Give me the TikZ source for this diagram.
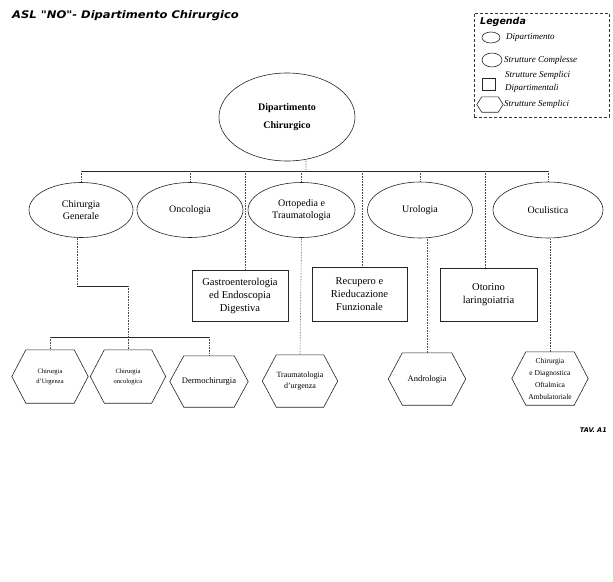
\documentclass[tikz,border=0pt]{standalone}
\usepackage{fontspec}
\setmainfont{Liberation Serif}
\newfontfamily\handfont{DejaVu Sans}
\usetikzlibrary{shapes.geometric,calc}

\tikzset{
  outline/.style={draw=black!85, line width=0.6pt},
  dept/.style={outline, ellipse, inner sep=0pt, align=center,
    font=\fontsize{10}{12}\selectfont},
  sdbox/.style={outline, rectangle, inner sep=0pt, align=center,
    font=\fontsize{10.5}{13}\selectfont},
  hexa/.style={inner sep=0pt, align=center, minimum width=76pt, minimum height=53pt},
  busline/.style={black!85, line width=0.8pt},
  dropline/.style={black!70, line width=0.6pt, densely dotted},
  legtext/.style={anchor=west, inner sep=0pt, font=\fontsize{9}{13}\selectfont\itshape},
}

% hexagon drawn round a named node, with pointed ends of the given depth
\newcommand\hexround[2]{%
  \draw[outline] (#1.west) -- ($(#1.north west)+(#2,0)$) -- ($(#1.north east)+(-#2,0)$)
    -- (#1.east) -- ($(#1.south east)+(-#2,0)$) -- ($(#1.south west)+(#2,0)$) -- cycle;}

\begin{document}
\begin{tikzpicture}[x=1pt, y=-1pt]
\useasboundingbox[fill=white] (0,0) rectangle (613,581);

% heading
\node[anchor=west, inner sep=0pt, font=\handfont\fontsize{10.5}{12}\selectfont\bfseries\itshape]
  (title) at (12,16) {\scalebox{1.1}[1]{ASL "NO"- Dipartimento Chirurgico}};

% legend
\node[draw=black!80, line width=0.6pt, densely dashed, minimum width=135pt, minimum height=104pt,
  inner sep=0pt] (legend) at (541.5,65) {};
\node[anchor=west, inner sep=0pt, font=\handfont\fontsize{9.5}{11}\selectfont\bfseries\itshape]
  (legtitle) at (480,22) {Legenda};
\node[outline, ellipse, minimum width=18pt, minimum height=11pt, inner sep=0pt] (lg1) at (491,37.5) {};
\node[legtext] (lt1) at (506,37.5) {Dipartimento};
\node[outline, ellipse, minimum width=20pt, minimum height=14pt, inner sep=0pt] (lg2) at (492,60) {};
\node[legtext] (lt2) at (504,60) {Strutture Complesse};
\node[outline, rectangle, minimum width=13pt, minimum height=12pt, inner sep=0pt] (lg3) at (489,84) {};
\node[legtext, align=left] (lt3) at (505,82) {Strutture Semplici\\Dipartimentali};
\node[hexa, minimum width=26pt, minimum height=15pt] (lg4) at (490,104.5) {};
\hexround{lg4}{5pt}
\node[legtext] (lt4) at (504,104.5) {Strutture Semplici};

% department
\node[dept, minimum width=136pt, minimum height=88pt, font=\fontsize{10}{18}\selectfont\bfseries]
  (main) at (287,117) {Dipartimento\\Chirurgico};

% complex structures
\node[dept, minimum width=104pt, minimum height=55pt] (cg) at (81,210) {Chirurgia\\Generale};
\node[dept, minimum width=106pt, minimum height=55pt] (onc) at (190,210) {Oncologia};
\node[dept, minimum width=107pt, minimum height=55pt] (ort) at (301.5,210) {Ortopedia e\\Traumatologia};
\node[dept, minimum width=105pt, minimum height=56pt] (uro) at (420,210) {Urologia};
\node[dept, minimum width=110pt, minimum height=56pt] (ocu) at (548,210) {Oculistica};

% departmental simple structures
\node[sdbox, minimum width=96pt, minimum height=51pt] (gas) at (240,296)
  {Gastroenterologia\\ed Endoscopia\\Digestiva};
\node[sdbox, minimum width=95pt, minimum height=54pt] (rec) at (359.5,294)
  {Recupero e\\Rieducazione\\Funzionale};
\node[sdbox, minimum width=97pt, minimum height=53pt] (oto) at (488.5,294.5)
  {Otorino\\laringoiatria};

% simple structures
\node[hexa, font=\fontsize{6.5}{10}\selectfont] (h1) at (50,376.5) {Chirurgia\\d'Urgenza};
\node[hexa, minimum width=75pt, font=\fontsize{6.5}{10}\selectfont] (h2) at (128,376.5) {Chirurgia\\oncologica};
\node[hexa, minimum width=78pt, minimum height=51pt, font=\fontsize{8.5}{10}\selectfont] (h3) at (209,381.5) {Dermochirurgia};
\node[hexa, minimum width=75pt, minimum height=52pt, font=\fontsize{8}{11}\selectfont] (h4) at (300,381) {Traumatologia\\d'urgenza};
\node[hexa, minimum width=77pt, minimum height=52pt, font=\fontsize{8.5}{10}\selectfont] (h5) at (427,379) {Andrologia};
\node[hexa, minimum width=76pt, minimum height=53pt, font=\fontsize{7.5}{12}\selectfont] (h6) at (550,378.5)
  {Chirurgia\\e Diagnostica\\Oftalmica\\Ambulatoriale};
\foreach \h in {h1,h2,h3,h4,h5,h6} {\hexround{\h}{14pt}}

% upper bus
\coordinate (busL) at (81,171);
\coordinate (busR) at (548,171);
\coordinate (mdrop) at (306,171);
\draw[dropline] (main.-66) -- (mdrop);
\draw[busline] (busL) -- (busR);
\foreach \n in {cg,onc,ort,uro,ocu} {\draw[dropline] (\n.north |- busL) -- (\n.north);}

% departmental simple structures hanging from the bus
\coordinate (tgas) at (245,171);
\coordinate (trec) at (362,171);
\coordinate (toto) at (485,171);
\draw[dropline] (tgas) -- (tgas |- gas.north);
\draw[dropline] (trec) -- (trec |- rec.north);
\draw[dropline] (toto) -- (toto |- oto.north);

% simple structures under their complex structures
\draw[dropline] (ort.south) -- (h4.north);
\draw[dropline] (h5.north) -- (h5.north |- uro.south);
\draw[dropline] (h6.north) -- (h6.north |- ocu.south);

% Chirurgia Generale branch
\coordinate (cgk1) at (77,286);
\coordinate (cgk2) at (128,286);
\coordinate (bus2) at (128,337);
\draw[dropline] (cgk1 |- cg.south) -- (cgk1);
\draw[busline] (cgk1) -- (cgk2);
\draw[dropline] (cgk2) -- (bus2);
\draw[busline] (h1.north |- bus2) -- (h3.north |- bus2);
\foreach \h in {h1,h2,h3} {\draw[dropline] (\h.north |- bus2) -- (\h.north);}

% sheet reference
\node[anchor=east, inner sep=0pt, font=\handfont\fontsize{6.5}{7}\selectfont\bfseries\itshape]
  (tav) at (607,430) {TAV. A1};
\end{tikzpicture}
\end{document}
